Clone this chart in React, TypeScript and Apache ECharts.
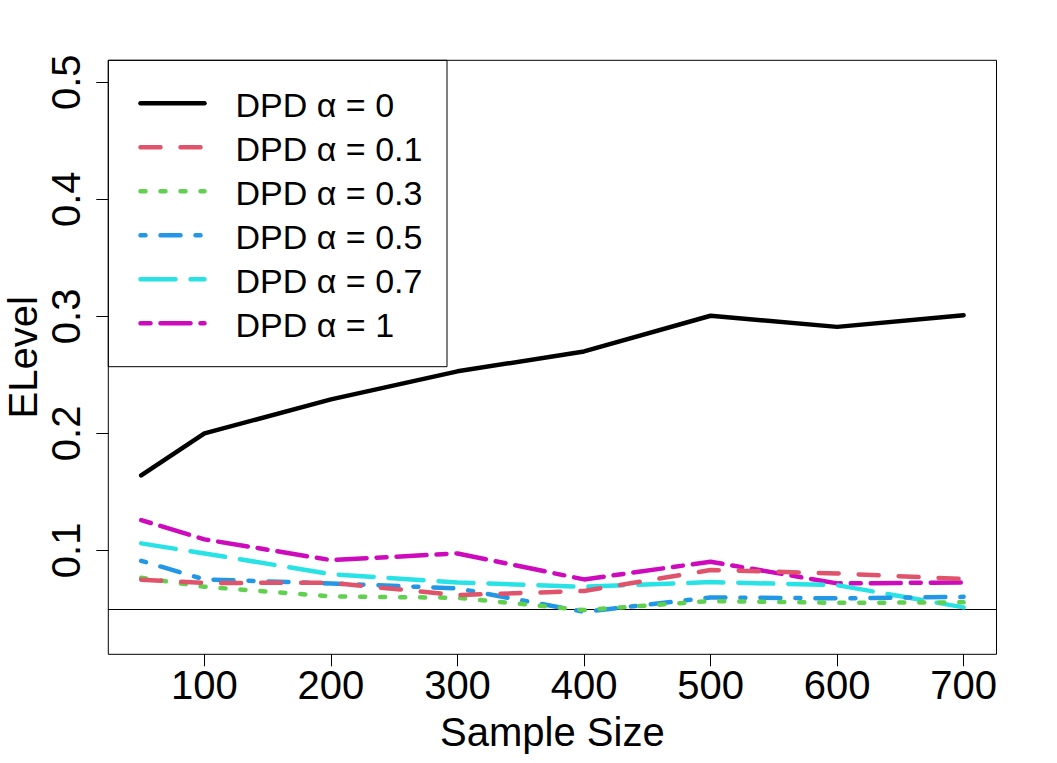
import React, { useEffect, useRef } from "react";
import * as echarts from "echarts";

// ---- data ----
const sampleSizes = [50, 100, 200, 300, 400, 500, 600, 700];
const xTicks = [100, 200, 300, 400, 500, 600, 700];
const yTicks = [0.1, 0.2, 0.3, 0.4, 0.5];
const alpha0 = [0.164, 0.2, 0.229, 0.253, 0.27, 0.3005, 0.291, 0.301];
const alpha01 = [0.075, 0.0722, 0.0723, 0.0618, 0.0653, 0.0832, 0.0803, 0.0755];
const alpha03 = [0.0766, 0.0689, 0.0607, 0.0595, 0.049, 0.0567, 0.0552, 0.0556];
const alpha05 = [0.0911, 0.0752, 0.0718, 0.0675, 0.0475, 0.0598, 0.059, 0.0603];
const alpha07 = [0.106, 0.0974, 0.0797, 0.0726, 0.0689, 0.0729, 0.0703, 0.0513];
const alpha1 = [0.1259, 0.1094, 0.0917, 0.0974, 0.0752, 0.0903, 0.0718, 0.0726];
const seriesNames = [
  "DPD α = 0",
  "DPD α = 0.1",
  "DPD α = 0.3",
  "DPD α = 0.5",
  "DPD α = 0.7",
  "DPD α = 1",
];
const seriesValues = [alpha0, alpha01, alpha03, alpha05, alpha07, alpha1];
const refLevel = 0.05;

// ---- styles ----
const colors = ["#000000", "#DF536B", "#61D04F", "#2297E6", "#28E2E5", "#CD0BBC"];
const dashes: any[] = ["solid", [20, 20], [5, 15], [5, 15, 20, 15], [35, 15], [10, 10, 30, 10]];
const FONT = "'Liberation Sans', Arial, sans-serif";

const W = 1057;
const H = 763;
const PL = 108.3;
const PR = 996.5;
const PT = 60.3;
const PB = 654.3;

export default function App() {
  const ref = useRef<HTMLDivElement>(null);
  useEffect(() => {
    if (!ref.current) return;
    const chart = echarts.init(ref.current, undefined, { renderer: "svg" });

    const series: any[] = seriesValues.map((vals, i) => ({
      name: seriesNames[i],
      type: "line",
      data: sampleSizes.map((x, j) => [x, vals[j]]),
      symbol: "none",
      showSymbol: false,
      z: 10 - i,
      lineStyle: {
        color: colors[i],
        width: 4.5,
        type: dashes[i],
        cap: "round",
        join: "round",
      },
      ...(i === 0
        ? {
            markLine: {
              silent: true,
              symbol: ["none", "none"],
              label: { show: false },
              lineStyle: { color: "#000", width: 1, type: "solid" },
              data: [{ yAxis: refLevel }],
            },
          }
        : {}),
    }));

    const legendGraphics: any[] = [
      {
        type: "rect",
        shape: { x: PL, y: PT, width: 447 - PL, height: 366.7 - PT },
        style: { fill: "none", stroke: "#000", lineWidth: 1 },
        z: 100,
      },
    ];
    seriesNames.forEach((name, i) => {
      const y = 103.3 + i * 44;
      legendGraphics.push({
        type: "line",
        shape: { x1: 140.5, y1: y, x2: 204.5, y2: y },
        style: {
          stroke: colors[i],
          lineWidth: 4.5,
          lineDash: i === 0 ? null : dashes[i],
          lineCap: "round",
        },
        z: 100,
      });
      legendGraphics.push({
        type: "text",
        x: 235.5,
        y: y + 1.5,
        style: {
          text: name,
          fontSize: 34,
          fontFamily: FONT,
          fill: "#000",
          textAlign: "left",
          textVerticalAlign: "middle",
          verticalAlign: "middle",
        },
        z: 100,
      });
    });

    chart.setOption({
      animation: false,
      backgroundColor: "#fff",
      grid: {
        left: PL,
        right: W - PR,
        top: PT,
        bottom: H - PB,
        show: true,
        borderColor: "#000",
        borderWidth: 1,
        containLabel: false,
        outerBoundsMode: "none",
      },
      xAxis: {
        type: "value",
        min: 24,
        max: 726,
        axisLine: { show: false },
        splitLine: { show: false },
        axisTick: {
          show: true,
          length: 12,
          customValues: xTicks,
          lineStyle: { color: "#000", width: 1 },
        },
        axisLabel: {
          customValues: xTicks,
          fontSize: 40,
          fontFamily: FONT,
          color: "#000",
          margin: 11,
        },
        name: "Sample Size",
        nameLocation: "middle",
        nameGap: 58,
        nameMoveOverlap: false,
        nameTextStyle: { fontSize: 40, fontFamily: FONT, color: "#000" },
      },
      yAxis: {
        type: "value",
        min: 0.0112,
        max: 0.5188,
        axisLine: { show: false },
        splitLine: { show: false },
        axisTick: {
          show: true,
          length: 12,
          customValues: yTicks,
          lineStyle: { color: "#000", width: 1 },
        },
        axisLabel: {
          customValues: yTicks,
          rotate: 90,
          fontSize: 40,
          fontFamily: FONT,
          color: "#000",
          margin: 22,
          formatter: (v: number) => v.toFixed(1),
        },
        name: "ELevel",
        nameLocation: "middle",
        nameGap: 65,
        nameMoveOverlap: false,
        nameTextStyle: { fontSize: 40, fontFamily: FONT, color: "#000" },
      },
      series,
      graphic: legendGraphics,
    });

    return () => chart.dispose();
  }, []);

  return (
    <div
      ref={ref}
      style={{ position: "fixed", left: 0, top: 0, width: W, height: H, background: "#fff" }}
    />
  );
}
